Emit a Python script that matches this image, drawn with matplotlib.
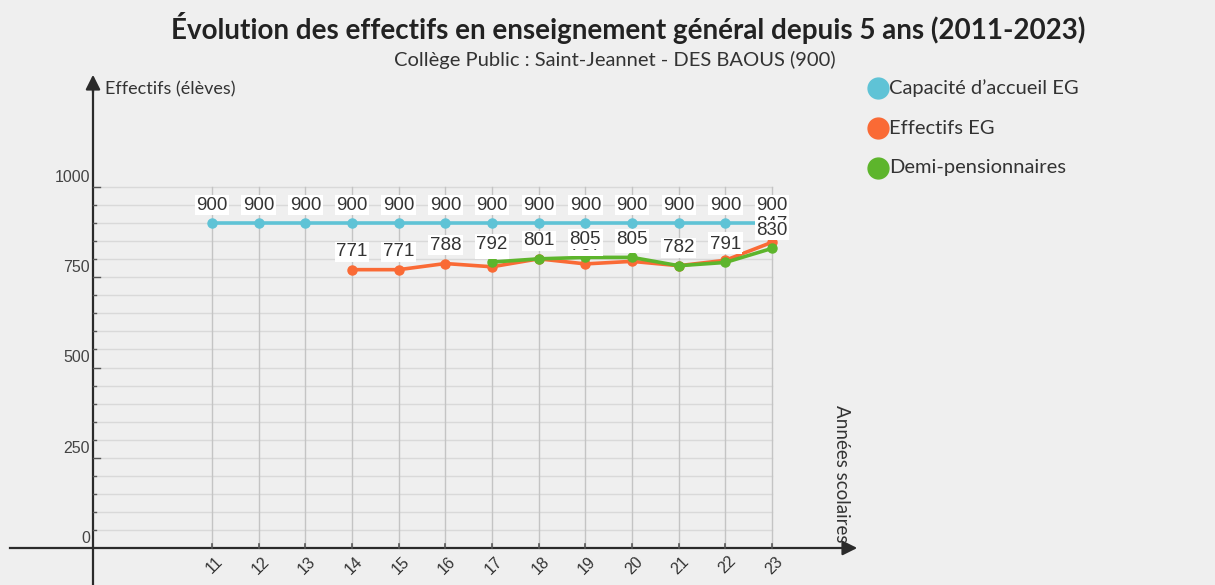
"""
Évolution des effectifs - Collège Saint-Jeannet (reproduction).
"""

import matplotlib
matplotlib.use("Agg")
import matplotlib.pyplot as plt
import numpy as np

# --- Data ---
years = [11, 12, 13, 14, 15, 16, 17, 18, 19, 20, 21, 22, 23]
capacite = [900, 900, 900, 900, 900, 900, 900, 900, 900, 900, 900, 900, 900]

effectifs_years = [14, 15, 16, 17, 18, 19, 20, 21, 22, 23]
effectifs = [771, 771, 788, 779, 801, 787, 794, 782, 797, 847]

demi_years = [17, 18, 19, 20, 21, 22, 23]
demi = [792, 801, 805, 805, 782, 791, 830]

y_ticks = [0, 250, 500, 750, 1000]
series_names = ["Capacité d’accueil EG", "Effectifs EG", "Demi-pensionnaires"]

TITLE = "Évolution des effectifs en enseignement général depuis 5 ans (2011-2023)"
SUBTITLE = "Collège Public : Saint-Jeannet - DES BAOUS (900)"

# --- Style ---
BG = "#efefef"
C_BLUE = "#5fc3d6"
C_ORANGE = "#fa6a35"
C_GREEN = "#5db52c"
C_AXIS = "#2b2b2b"
C_TEXT = "#333333"
W, H = 1215, 585

# pixel -> data mapping (year 11 at x=212 px, 46.67 px per year; 0 at y=548 px, 0.361 px per unit)
PX_PER_YEAR = 46.67
PX_PER_UNIT = 0.361
X0_PX, Y0_PX = 212, 548


def dx(px):
    return 11 + (px - X0_PX) / PX_PER_YEAR


def dy(py):
    return (Y0_PX - py) / PX_PER_UNIT


fig = plt.figure(figsize=(W / 100, H / 100), dpi=100, facecolor=BG)
ax = fig.add_axes([0, 0, 1, 1])
ax.set_facecolor(BG)
ax.set_xlim(dx(0), dx(W))
ax.set_ylim(dy(H), dy(0))
ax.axis("off")

# --- Grid ---
x_left = dx(95)
for v in np.arange(50, 1001, 50):
    ax.plot([x_left, years[-1]], [v, v], color="#d9d9d9", lw=1.0, zorder=1)
for yr in years:
    ax.plot([yr, yr], [0, 1000], color="#c4c4c4", lw=1.0, zorder=1)

# --- Axes with arrows ---
x_axis = dx(93)
ax.plot([dx(10), dx(848)], [0, 0], color=C_AXIS, lw=1.6, zorder=2)
ax.annotate("", xy=(dx(860), 0), xytext=(dx(840), 0),
            arrowprops=dict(arrowstyle="-|>", color=C_AXIS, lw=1.6, mutation_scale=22), zorder=2)
ax.plot([x_axis, x_axis], [dy(585), dy(85)], color=C_AXIS, lw=1.6, zorder=2)
ax.annotate("", xy=(x_axis, dy(72)), xytext=(x_axis, dy(95)),
            arrowprops=dict(arrowstyle="-|>", color=C_AXIS, lw=1.6, mutation_scale=22), zorder=2)

# ticks on axes
for v in np.arange(50, 1001, 50):
    length = 7 if v % 250 == 0 else 3
    ax.plot([x_axis, dx(93 + length)], [v, v], color="#555555", lw=1.0, zorder=2)
for yr in years:
    ax.plot([yr, yr], [0, dy(Y0_PX - 4)], color="#555555", lw=1.2, zorder=2)

# y tick labels
for v in y_ticks:
    ax.annotate(str(v), xy=(x_axis, v), xytext=(-2, 7), textcoords="offset points",
                ha="right", va="center", fontsize=11.5, color="#444444",
                family="Liberation Sans", zorder=3)

# x tick labels
for yr in years:
    ax.annotate(str(yr), xy=(yr, 0), xytext=(2, -4), textcoords="offset points",
                ha="right", va="top", rotation=45, rotation_mode="anchor",
                fontsize=11.5, color=C_TEXT, family="Liberation Sans", zorder=3)

# axis titles
ax.text(dx(105), dy(89), "Effectifs (élèves)", ha="left", va="center",
        fontsize=13, color=C_TEXT, family="Lato")
ax.text(dx(842), dy(474), "Années scolaires", ha="center", va="center", rotation=-90,
        fontsize=13.5, color=C_TEXT, family="Lato")

# --- Series ---
ax.plot(years, capacite, color=C_BLUE, lw=2.6, marker="o", ms=6.5, zorder=4)
ax.plot(effectifs_years, effectifs, color=C_ORANGE, lw=2.6, marker="o", ms=6.5, zorder=5)
ax.plot(demi_years, demi, color=C_GREEN, lw=2.6, marker="o", ms=6.5, zorder=6)

label_box = dict(boxstyle="square,pad=0.08", fc="white", ec="none")


def point_labels(xs, ys, z):
    for x, y in zip(xs, ys):
        ax.annotate(str(y), xy=(x, y), xytext=(0, 13), textcoords="offset points",
                    ha="center", va="center", fontsize=13.5, color=C_TEXT,
                    family="Liberation Sans", bbox=label_box, zorder=z)


point_labels(effectifs_years, effectifs, 7)
point_labels(demi_years, demi, 8)
point_labels(years, capacite, 9)

# --- Titles ---
fig.text(628 / W, 1 - 28 / H, TITLE, ha="center", va="center", fontsize=20,
         fontweight="bold", color="#222222", family="Lato")
fig.text(615 / W, 1 - 60 / H, SUBTITLE, ha="center", va="center", fontsize=14.5,
         color=C_TEXT, family="Lato")

# --- Legend ---
for i, (name, col) in enumerate(zip(series_names, [C_BLUE, C_ORANGE, C_GREEN])):
    yp = 88 + 40 * i
    fig.lines.append(plt.Line2D([878 / W], [1 - yp / H], marker="o", ms=15, color=col,
                                transform=fig.transFigure, figure=fig))
    fig.text(889 / W, 1 - yp / H, name, ha="left", va="center", fontsize=14.5,
             color=C_TEXT, family="Lato")

fig.savefig("out.png", dpi=100, facecolor=BG)
